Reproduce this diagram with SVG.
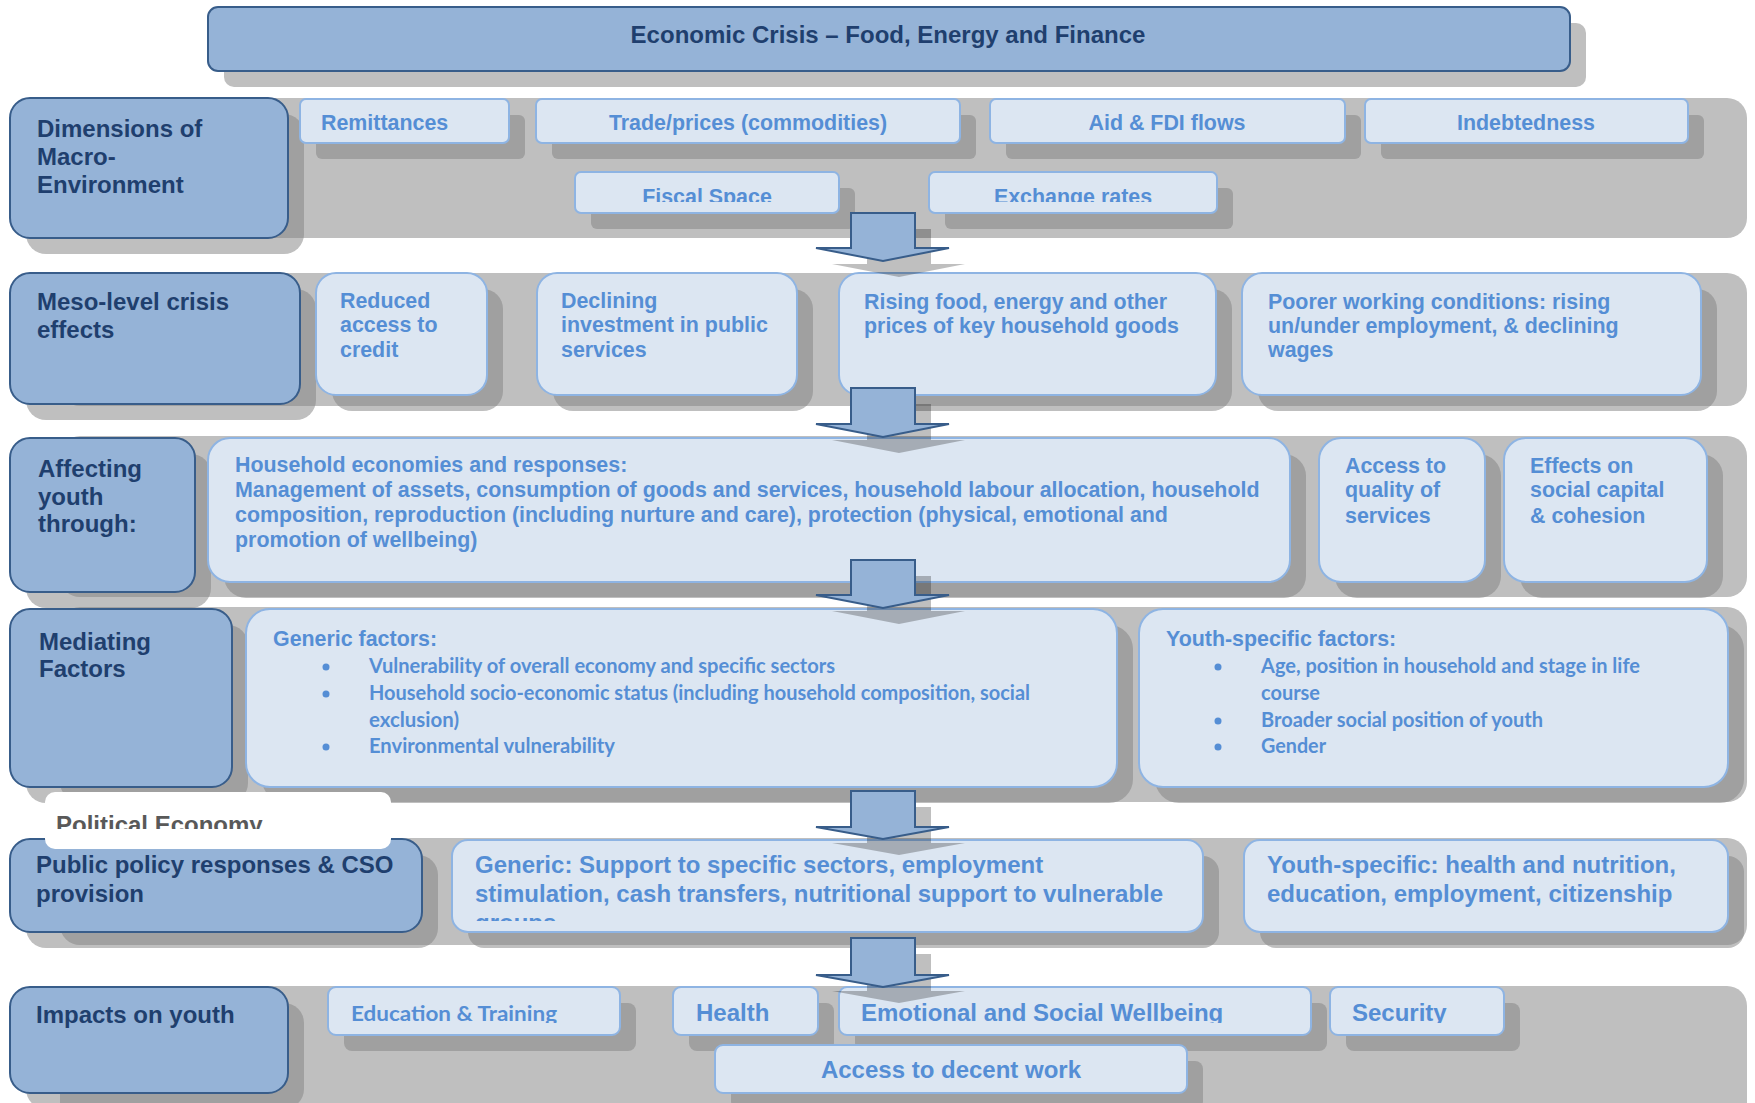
<svg xmlns="http://www.w3.org/2000/svg" xmlns:xlink="http://www.w3.org/1999/xlink" width="1755" height="1103" viewBox="0 0 1755 1103">
<style>
.node{fill:#95B3D7;stroke:#385D8A;stroke-width:2}
.box{fill:#DCE6F2;stroke:#8EB4E3;stroke-width:2}
.band{fill:#BFBFBF}
.arrow{fill:#95B3D7;stroke:#385D8A;stroke-width:2;stroke-linejoin:miter}
.ashadow{fill:#000;fill-opacity:0.25}
.nl{font-family:"Liberation Sans",Arial,sans-serif;font-weight:bold;font-size:24px;fill:#1F3F6E}
.bt{font-family:"Liberation Sans",Arial,sans-serif;font-weight:bold;font-size:21.4px;fill:#558ED5}
.bt24{font-family:"Liberation Sans",Arial,sans-serif;font-weight:bold;font-size:24px;fill:#558ED5}
.cal{font-family:Lato,"Liberation Sans",sans-serif;font-weight:bold;font-size:20px;fill:#558ED5}
.pe{font-family:"Liberation Sans",Arial,sans-serif;font-weight:bold;font-size:24px;fill:#595959}
.dot{fill:#558ED5}
</style>
<defs>
<g id="shadowShapes">
<rect x="224" y="23" width="1362" height="64" rx="10"/>
<rect x="26" y="114" width="278" height="140" rx="20"/>
<rect x="26" y="289" width="290" height="131" rx="20"/>
<rect x="26" y="454" width="185" height="154" rx="20"/>
<rect x="26" y="625" width="222" height="178" rx="20"/>
<rect x="26" y="855" width="412" height="93" rx="20"/>
<rect x="26" y="1003" width="278" height="106" rx="20"/>
<rect x="316" y="115" width="209" height="44" rx="6"/>
<rect x="552" y="115" width="424" height="44" rx="6"/>
<rect x="1006" y="115" width="355" height="44" rx="6"/>
<rect x="1381" y="115" width="323" height="44" rx="6"/>
<rect x="591" y="188" width="264" height="41" rx="6"/>
<rect x="945" y="188" width="288" height="41" rx="6"/>
<rect x="332" y="289" width="171" height="122" rx="20"/>
<rect x="553" y="289" width="260" height="122" rx="20"/>
<rect x="855" y="289" width="377" height="122" rx="20"/>
<rect x="1258" y="289" width="459" height="122" rx="20"/>
<rect x="224" y="454" width="1082" height="144" rx="22"/>
<rect x="1335" y="454" width="166" height="144" rx="22"/>
<rect x="1520" y="454" width="203" height="144" rx="22"/>
<rect x="262" y="625" width="871" height="178" rx="24"/>
<rect x="1155" y="625" width="589" height="178" rx="24"/>
<rect x="468" y="856" width="751" height="92" rx="16"/>
<rect x="1260" y="856" width="484" height="92" rx="16"/>
<rect x="344" y="1003" width="292" height="48" rx="8"/>
<rect x="689" y="1003" width="145" height="48" rx="8"/>
<rect x="855" y="1003" width="472" height="48" rx="8"/>
<rect x="1346" y="1003" width="174" height="48" rx="8"/>
<rect x="731" y="1061" width="472" height="48" rx="8"/>
</g>
<clipPath id="bandClip">
<rect x="60" y="98" width="1687" height="140" rx="20"/>
<rect x="60" y="273" width="1687" height="133" rx="20"/>
<rect x="60" y="436" width="1687" height="161" rx="20"/>
<rect x="60" y="607" width="1687" height="195" rx="20"/>
<rect x="60" y="838" width="1687" height="107" rx="20"/>
<rect x="60" y="986" width="1687" height="144" rx="20"/>
</clipPath>
<clipPath id="clipR1"><rect x="0" y="150" width="1755" height="52"/></clipPath>
<clipPath id="clipR5"><rect x="0" y="840" width="1755" height="81"/></clipPath>
<clipPath id="clipR6"><rect x="0" y="987" width="1755" height="36"/></clipPath>
<clipPath id="clipPE"><rect x="0" y="792" width="1755" height="37"/></clipPath>
<path id="a1" d="M851,213 L915,213 L915,248 L949,248 L883,261 L816,248 L851,248 Z"/>
<path id="a2" d="M851,388 L915,388 L915,424 L949,424 L883,437 L816,424 L851,424 Z"/>
<path id="a3" d="M851,560 L915,560 L915,595 L949,595 L883,608 L816,595 L851,595 Z"/>
<path id="a4" d="M851,791 L915,791 L915,827 L949,827 L883,839 L816,827 L851,827 Z"/>
<path id="a5" d="M851,938 L915,938 L915,975 L949,975 L883,987 L816,975 L851,975 Z"/>
</defs>

<g id="shadows">
<use xlink:href="#shadowShapes" href="#shadowShapes" fill="#BFBFBF"/>
<g id="bands">
<rect class="band" x="60" y="98" width="1687" height="140" rx="20"/>
<rect class="band" x="60" y="273" width="1687" height="133" rx="20"/>
<rect class="band" x="60" y="436" width="1687" height="161" rx="20"/>
<rect class="band" x="60" y="607" width="1687" height="195" rx="20"/>
<rect class="band" x="60" y="838" width="1687" height="107" rx="20"/>
<rect class="band" x="60" y="986" width="1687" height="144" rx="20"/>
</g>
<use xlink:href="#shadowShapes" href="#shadowShapes" fill="#A0A0A0" clip-path="url(#bandClip)"/>
</g>

<g id="title">
<rect class="node" x="208" y="7" width="1362" height="64" rx="10"/>
<text class="nl" x="888" y="43" text-anchor="middle">Economic Crisis – Food, Energy and Finance</text>
</g>

<g id="node-dimensions">
<rect class="node" x="10" y="98" width="278" height="140" rx="20"/>
<text class="nl"><tspan x="37" y="137">Dimensions of</tspan><tspan x="37" y="165">Macro-</tspan><tspan x="37" y="193">Environment</tspan></text>
</g>
<g id="node-remittances">
<rect class="box" x="300" y="99" width="209" height="44" rx="6"/>
<text class="bt" x="321" y="130">Remittances</text>
</g>
<g id="node-trade">
<rect class="box" x="536" y="99" width="424" height="44" rx="6"/>
<text class="bt" x="748" y="130" text-anchor="middle">Trade/prices (commodities)</text>
</g>
<g id="node-aid">
<rect class="box" x="990" y="99" width="355" height="44" rx="6"/>
<text class="bt" x="1167" y="130" text-anchor="middle">Aid &amp; FDI flows</text>
</g>
<g id="node-indebtedness">
<rect class="box" x="1365" y="99" width="323" height="44" rx="6"/>
<text class="bt" x="1526" y="130" text-anchor="middle">Indebtedness</text>
</g>
<g id="node-fiscal">
<rect class="box" x="575" y="172" width="264" height="41" rx="6"/>
<text class="bt" x="707" y="204" text-anchor="middle" clip-path="url(#clipR1)">Fiscal Space</text>
</g>
<g id="node-exchange">
<rect class="box" x="929" y="172" width="288" height="41" rx="6"/>
<text class="bt" x="1073" y="204" text-anchor="middle" clip-path="url(#clipR1)">Exchange rates</text>
</g>

<g id="node-meso">
<rect class="node" x="10" y="273" width="290" height="131" rx="20"/>
<text class="nl"><tspan x="37" y="310">Meso-level crisis</tspan><tspan x="37" y="338">effects</tspan></text>
</g>
<g id="node-credit">
<rect class="box" x="316" y="273" width="171" height="122" rx="20"/>
<text class="bt"><tspan x="340" y="308">Reduced</tspan><tspan x="340" y="332">access to</tspan><tspan x="340" y="357">credit</tspan></text>
</g>
<g id="node-investment">
<rect class="box" x="537" y="273" width="260" height="122" rx="20"/>
<text class="bt"><tspan x="561" y="308">Declining</tspan><tspan x="561" y="332">investment in public</tspan><tspan x="561" y="357">services</tspan></text>
</g>
<g id="node-prices">
<rect class="box" x="839" y="273" width="377" height="122" rx="20"/>
<text class="bt"><tspan x="864" y="309">Rising food, energy and other</tspan><tspan x="864" y="333">prices of key household goods</tspan></text>
</g>
<g id="node-working">
<rect class="box" x="1242" y="273" width="459" height="122" rx="20"/>
<text class="bt"><tspan x="1268" y="309">Poorer working conditions: rising</tspan><tspan x="1268" y="333">un/under employment, &amp; declining</tspan><tspan x="1268" y="357">wages</tspan></text>
</g>

<g id="node-affecting">
<rect class="node" x="10" y="438" width="185" height="154" rx="20"/>
<text class="nl"><tspan x="38" y="477">Affecting</tspan><tspan x="38" y="505">youth</tspan><tspan x="38" y="532">through:</tspan></text>
</g>
<g id="node-household">
<rect class="box" x="208" y="438" width="1082" height="144" rx="22"/>
<text class="bt"><tspan x="235" y="472">Household economies and responses:</tspan><tspan x="235" y="497">Management of assets, consumption of goods and services, household labour allocation, household</tspan><tspan x="235" y="522">composition, reproduction (including nurture and care), protection (physical, emotional and</tspan><tspan x="235" y="547">promotion of wellbeing)</tspan></text>
</g>
<g id="node-access-services">
<rect class="box" x="1319" y="438" width="166" height="144" rx="22"/>
<text class="bt"><tspan x="1345" y="473">Access to</tspan><tspan x="1345" y="497">quality of</tspan><tspan x="1345" y="523">services</tspan></text>
</g>
<g id="node-social-capital">
<rect class="box" x="1504" y="438" width="203" height="144" rx="22"/>
<text class="bt"><tspan x="1530" y="473">Effects on</tspan><tspan x="1530" y="497">social capital</tspan><tspan x="1530" y="523">&amp; cohesion</tspan></text>
</g>

<g id="node-mediating">
<rect class="node" x="10" y="609" width="222" height="178" rx="20"/>
<text class="nl"><tspan x="39" y="650">Mediating</tspan><tspan x="39" y="677">Factors</tspan></text>
</g>
<g id="node-generic-factors">
<rect class="box" x="246" y="609" width="871" height="178" rx="24"/>
<text class="bt" x="273" y="646">Generic factors:</text>
<circle class="dot" cx="326" cy="667" r="3.5"/>
<circle class="dot" cx="326" cy="694" r="3.5"/>
<circle class="dot" cx="326" cy="747" r="3.5"/>
<text class="cal" x="369" y="673" textLength="466" lengthAdjust="spacingAndGlyphs">Vulnerability of overall economy and specific sectors</text>
<text class="cal" x="369" y="700" textLength="661" lengthAdjust="spacingAndGlyphs">Household socio-economic status (including household composition, social</text>
<text class="cal" x="369" y="727" textLength="90" lengthAdjust="spacingAndGlyphs">exclusion)</text>
<text class="cal" x="369" y="753" textLength="246" lengthAdjust="spacingAndGlyphs">Environmental vulnerability</text>
</g>
<g id="node-youth-factors">
<rect class="box" x="1139" y="609" width="589" height="178" rx="24"/>
<text class="bt" x="1166" y="646">Youth-specific factors:</text>
<circle class="dot" cx="1218" cy="667" r="3.5"/>
<circle class="dot" cx="1218" cy="721" r="3.5"/>
<circle class="dot" cx="1218" cy="747" r="3.5"/>
<text class="cal" x="1261" y="673" textLength="379" lengthAdjust="spacingAndGlyphs">Age, position in household and stage in life</text>
<text class="cal" x="1261" y="700" textLength="59" lengthAdjust="spacingAndGlyphs">course</text>
<text class="cal" x="1261" y="727" textLength="282" lengthAdjust="spacingAndGlyphs">Broader social position of youth</text>
<text class="cal" x="1261" y="753" textLength="65" lengthAdjust="spacingAndGlyphs">Gender</text>
</g>

<g id="node-public-policy">
<rect class="node" x="10" y="839" width="412" height="93" rx="20"/>
<text class="nl"><tspan x="36" y="873">Public policy responses &amp; CSO</tspan><tspan x="36" y="902">provision</tspan></text>
</g>
<g id="node-political-economy">
<rect x="45" y="792" width="346" height="57" rx="10" fill="#FFFFFF"/>
<text class="pe" x="56" y="833" clip-path="url(#clipPE)">Political Economy</text>
</g>
<g id="node-generic-policy">
<rect class="box" x="452" y="840" width="751" height="92" rx="16"/>
<text class="bt24" clip-path="url(#clipR5)"><tspan x="475" y="873">Generic: Support to specific sectors, employment</tspan><tspan x="475" y="902">stimulation, cash transfers, nutritional support to vulnerable</tspan><tspan x="475" y="931">groups</tspan></text>
</g>
<g id="node-youth-policy">
<rect class="box" x="1244" y="840" width="484" height="92" rx="16"/>
<text class="bt24"><tspan x="1267" y="873">Youth-specific: health and nutrition,</tspan><tspan x="1267" y="902">education, employment, citizenship</tspan></text>
</g>

<g id="node-impacts">
<rect class="node" x="10" y="987" width="278" height="106" rx="20"/>
<text class="nl" x="36" y="1023">Impacts on youth</text>
</g>
<g id="node-education">
<rect class="box" x="328" y="987" width="292" height="48" rx="8"/>
<text class="cal" x="351" y="1021" textLength="206" lengthAdjust="spacingAndGlyphs" clip-path="url(#clipR6)">Education &amp; Training</text>
</g>
<g id="node-health">
<rect class="box" x="673" y="987" width="145" height="48" rx="8"/>
<text class="bt24" x="696" y="1021" clip-path="url(#clipR6)">Health</text>
</g>
<g id="node-wellbeing">
<rect class="box" x="839" y="987" width="472" height="48" rx="8"/>
<text class="bt24" x="861" y="1021" clip-path="url(#clipR6)">Emotional and Social Wellbeing</text>
</g>
<g id="node-security">
<rect class="box" x="1330" y="987" width="174" height="48" rx="8"/>
<text class="bt24" x="1352" y="1021" clip-path="url(#clipR6)">Security</text>
</g>
<g id="node-decent-work">
<rect class="box" x="715" y="1045" width="472" height="48" rx="8"/>
<text class="bt24" x="951" y="1078" text-anchor="middle">Access to decent work</text>
</g>

<g id="connectors">
<use xlink:href="#a1" href="#a1" class="ashadow" transform="translate(16,16)"/>
<use xlink:href="#a1" href="#a1" class="arrow"/>
<use xlink:href="#a2" href="#a2" class="ashadow" transform="translate(16,16)"/>
<use xlink:href="#a2" href="#a2" class="arrow"/>
<use xlink:href="#a3" href="#a3" class="ashadow" transform="translate(16,16)"/>
<use xlink:href="#a3" href="#a3" class="arrow"/>
<use xlink:href="#a4" href="#a4" class="ashadow" transform="translate(16,16)"/>
<use xlink:href="#a4" href="#a4" class="arrow"/>
<use xlink:href="#a5" href="#a5" class="ashadow" transform="translate(16,16)"/>
<use xlink:href="#a5" href="#a5" class="arrow"/>
</g>
</svg>
